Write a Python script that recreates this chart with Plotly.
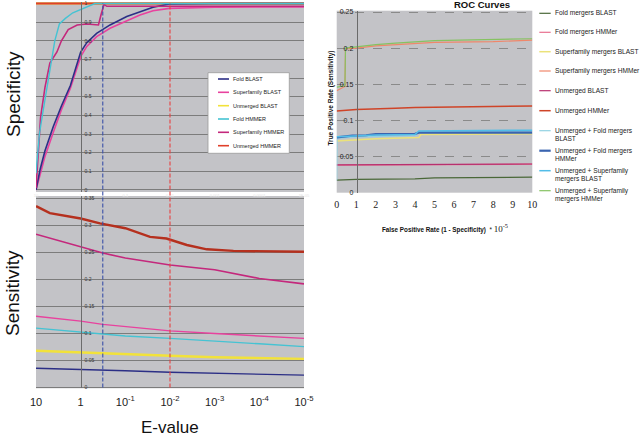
import plotly.graph_objects as go

W, H = 640, 436

# ───────────────── DATA ─────────────────
# left panels (E-value sweeps)
left_names = ["Fold BLAST", "Superfamily BLAST", "Unmerged BLAST",
              "Fold HMMER", "Superfamily HMMER", "Unmerged HMMER"]
left_colors = ["#2c2f86", "#e8429e", "#f2e23a", "#45c3d3", "#c4287c", "#e0402a"]

# specificity (top panel)
spec_e_blast = [10, 8.1, 6.3, 4.1, 2.7, 1.7, 1, 0.73, 0.44, 0.22, 0.093, 0.047, 0.024, 0.0104, 0.001, 1e-5]
spec_fold_blast = [0, 0.11, 0.21, 0.34, 0.45, 0.56, 0.74, 0.79, 0.84, 0.885, 0.93, 0.956, 0.98, 0.997, 1.0, 1.0]
spec_sf_blast = [0, 0.08, 0.18, 0.31, 0.43, 0.545, 0.715, 0.77, 0.822, 0.867, 0.908, 0.938, 0.961, 0.974, 0.98, 0.982]
spec_e_unmerged = [10, 1e-5]
spec_unmerged_blast = [1.0, 1.0]
spec_unmerged_hmmer = [1.0, 1.0]
spec_e_fold_hmmer = [10, 8.4, 7.1, 5.8, 4.7, 3.8, 3.0, 2.2, 1.5, 1, 0.71, 0.48, 1e-5]
spec_fold_hmmer = [0.09, 0.30, 0.41, 0.54, 0.66, 0.80, 0.89, 0.92, 0.95, 0.968, 0.986, 1.0, 1.0]
spec_e_sf_hmmer = [10, 7.9, 6.3, 4.9, 3.4, 2.7, 1.9, 1.2, 0.73, 0.40, 0.35, 0.30, 0.26, 1e-5]
spec_sf_hmmer = [0.01, 0.39, 0.55, 0.68, 0.74, 0.80, 0.86, 0.885, 0.89, 0.885, 0.94, 0.995, 0.985, 0.985]

# sensitivity (bottom panel)
sens_e = [10, 1, 0.32, 0.1, 0.01, 0.001, 1e-4, 1e-5]
sens_fold_blast = [0.0346, 0.0327, 0.0315, 0.030, 0.0272, 0.0253, 0.0235, 0.022]
sens_sf_blast = [0.131, 0.122, 0.116, 0.112, 0.104, 0.099, 0.095, 0.090]
sens_unmerged_blast = [0.067, 0.0636, 0.0623, 0.061, 0.058, 0.055, 0.0537, 0.052]
sens_fold_hmmer = [0.109, 0.102, 0.098, 0.0944, 0.090, 0.0855, 0.080, 0.0747]
sens_sf_hmmer = [0.283, 0.259, 0.248, 0.239, 0.226, 0.217, 0.201, 0.191]
sens_e_um_hmmer = [10, 4.9, 1, 0.37, 0.1, 0.028, 0.012, 0.01, 0.0042, 0.0015, 3.8e-4, 1e-5]
sens_unmerged_hmmer = [0.335, 0.322, 0.312, 0.303, 0.294, 0.278, 0.275, 0.273, 0.263, 0.255, 0.252, 0.2505]

e_ticks = [10, 1, 0.1, 0.01, 0.001, 1e-4, 1e-5]
e_ticktext = ["10", "1", "10<sup>-1</sup>", "10<sup>-2</sup>", "10<sup>-3</sup>",
              "10<sup>-4</sup>", "10<sup>-5</sup>"]
e_ticktext_top = ["10", "1", "0.1", "0.01", "0.001", "0.0001", "1E-05"]
e_blue_cut = 0.32
e_red_cut = 0.01

# right panel (ROC)
roc_names = ["Fold mergers BLAST", "Fold mergers HMMer", "Superfamily mergers BLAST",
             "Superfamily mergers HMMer", "Unmerged BLAST", "Unmerged HMMer",
             "Unmerged + Fold mergers<br>BLAST", "Unmerged + Fold mergers<br>HMMer",
             "Unmerged + Superfamily<br>mergers BLAST", "Unmerged + Superfamily<br>mergers HMMer"]
roc_colors = ["#4a6838", "#e8708f", "#ebe27a", "#f0876a", "#b8306f", "#cf4428",
              "#92d2e2", "#3a64b0", "#52bde8", "#86c262"]
roc_widths = [1.2, 1.2, 1.5, 1.2, 1.2, 1.5, 1.2, 2.2, 1.5, 1.2]

roc_x_fold_blast = [0, 1, 4, 5, 10]
roc_y_fold_blast = [0.0175, 0.0185, 0.019, 0.0205, 0.0215]
roc_x_fold_hmmer = [0, 10]
roc_y_fold_hmmer = [0.0382, 0.0394]
roc_x_sf_blast = [0, 1, 2, 4.2, 4.3, 10]
roc_y_sf_blast = [0.0715, 0.0735, 0.0745, 0.0765, 0.0805, 0.0815]
roc_x_sf_hmmer = [0, 0.3, 0.42, 0.45, 1, 2, 3, 4, 5, 8, 10]
roc_y_sf_hmmer = [0.141, 0.146, 0.147, 0.199, 0.2, 0.203, 0.205, 0.207, 0.208, 0.209, 0.211]
roc_x_um_blast = [0, 10]
roc_y_um_blast = [0.0384, 0.0397]
roc_x_um_hmmer = [0, 1, 3, 4, 10]
roc_y_um_hmmer = [0.113, 0.115, 0.117, 0.118, 0.12]
roc_x_um_fold_blast = [0, 0.02, 0.8, 4, 4.2, 10]
roc_y_um_fold_blast = [0.017, 0.075, 0.077, 0.079, 0.084, 0.085]
roc_x_um_fold_hmmer = [0, 0.8, 1.5, 2, 4, 4.2, 10]
roc_y_um_fold_hmmer = [0.0765, 0.079, 0.0795, 0.081, 0.0815, 0.083, 0.0832]
roc_x_um_sf_blast = [0, 0.8, 2, 4, 4.2, 10]
roc_y_um_sf_blast = [0.0775, 0.0785, 0.080, 0.0805, 0.0855, 0.0865]
roc_x_um_sf_hmmer = [0, 0.42, 0.45, 1, 2, 3, 4, 5, 10]
roc_y_um_sf_hmmer = [0.146, 0.148, 0.2, 0.202, 0.205, 0.207, 0.209, 0.2105, 0.213]

FONT = "Liberation Sans, Arial, sans-serif"
SERIF = "Liberation Serif, Times New Roman, serif"


def px(x):
    return x / W


def py(y):
    return 1 - y / H


fig = go.Figure()


def line(xs, ys, color, width, xa, ya):
    fig.add_trace(go.Scatter(x=xs, y=ys, mode="lines", xaxis=xa, yaxis=ya,
                             line=dict(color=color, width=width), showlegend=False,
                             hoverinfo="skip"))


# ── top: specificity ──
line(spec_e_unmerged, spec_unmerged_blast, left_colors[2], 2, "x", "y")
line(spec_e_unmerged, spec_unmerged_hmmer, left_colors[5], 2, "x", "y")
line(spec_e_blast, spec_sf_blast, left_colors[1], 1.6, "x", "y")
line(spec_e_blast, spec_fold_blast, left_colors[0], 1.6, "x", "y")
line(spec_e_sf_hmmer, spec_sf_hmmer, left_colors[4], 1.6, "x", "y")
line(spec_e_fold_hmmer, spec_fold_hmmer, left_colors[3], 1.4, "x", "y")

# ── bottom: sensitivity ──
line(sens_e, sens_fold_blast, left_colors[0], 1.4, "x2", "y2")
line(sens_e, sens_unmerged_blast, left_colors[2], 2.4, "x2", "y2")
line(sens_e, sens_fold_hmmer, left_colors[3], 1.4, "x2", "y2")
line(sens_e, sens_sf_blast, left_colors[1], 1.4, "x2", "y2")
line(sens_e, sens_sf_hmmer, left_colors[4], 1.6, "x2", "y2")
line(sens_e_um_hmmer, sens_unmerged_hmmer, "#b5301e", 2.4, "x2", "y2")

# ── right: ROC ──
roc_series = [
    (roc_x_fold_blast, roc_y_fold_blast), (roc_x_fold_hmmer, roc_y_fold_hmmer),
    (roc_x_sf_blast, roc_y_sf_blast), (roc_x_sf_hmmer, roc_y_sf_hmmer),
    (roc_x_um_blast, roc_y_um_blast), (roc_x_um_hmmer, roc_y_um_hmmer),
    (roc_x_um_fold_blast, roc_y_um_fold_blast), (roc_x_um_fold_hmmer, roc_y_um_fold_hmmer),
    (roc_x_um_sf_blast, roc_y_um_sf_blast), (roc_x_um_sf_hmmer, roc_y_um_sf_hmmer),
]
for (xs, ys), c, w in zip(roc_series, roc_colors, roc_widths):
    line(xs, ys, c, w, "x3", "y3")

# ───────────────── LAYOUT ─────────────────
left_dom = [px(36), px(304)]
e_range = [1.0005, -5.0005]
common_y = dict(anchor="free", position=px(80.5), side="right", showline=True,
                linecolor="#6c6c6c", linewidth=1, gridcolor="#7c7c7c", gridwidth=1,
                zeroline=False, ticks="outside", ticklen=2, tickcolor="rgba(0,0,0,0)",
                automargin=False, ticklabeloverflow="allow")
fig.update_layout(
    width=W, height=H, autosize=False,
    margin=dict(l=0, r=0, t=0, b=0, autoexpand=False),
    paper_bgcolor="white", plot_bgcolor="#c3c3c7",
    font=dict(family=FONT, color="#222"),
    xaxis=dict(domain=left_dom, type="log", range=e_range, anchor="y", showgrid=False,
               zeroline=False, tickvals=e_ticks, ticktext=e_ticktext_top,
               tickfont=dict(size=4, color="#e4e4e4"), ticks="", automargin=False),
    yaxis=dict(domain=[py(192), py(2)], range=[-0.011, 1.008], dtick=0.1,
               tickfont=dict(size=5, color="#333"), **common_y),
    xaxis2=dict(domain=left_dom, type="log", range=e_range, anchor="y2", showgrid=False,
                zeroline=False, tickvals=e_ticks, ticktext=e_ticktext,
                tickfont=dict(size=11, color="#222"), ticks="outside", ticklen=3,
                tickcolor="rgba(0,0,0,0)", automargin=False, ticklabeloverflow="allow"),
    yaxis2=dict(domain=[py(388.3), py(196)], range=[-0.0024, 0.3537], dtick=0.05,
                tickfont=dict(size=5, color="#333"), **common_y),
    xaxis3=dict(domain=[px(336.7), px(532.3)], range=[0, 10], dtick=1, anchor="y3",
                showgrid=False, zeroline=False, ticks="outside", ticklen=2,
                tickcolor="rgba(0,0,0,0)", tickfont=dict(family=SERIF, size=10, color="#222"),
                automargin=False, ticklabeloverflow="allow"),
    yaxis3=dict(domain=[py(192.7), py(10.7)], range=[0, 0.2518], dtick=0.05,
                anchor="free", position=px(356.7), showline=True, linecolor="#6a6a6a",
                gridcolor="#8a8a8a", griddash="dash", zeroline=False, ticks="outside",
                ticklen=2, tickcolor="rgba(0,0,0,0)", tickfont=dict(size=7, color="#222"),
                automargin=False, ticklabeloverflow="allow"),
)

shapes = []
# dashed E-value cut-offs through both left panels
for e_cut, col in [(e_blue_cut, "#3a50a8"), (e_red_cut, "#e84040")]:
    shapes.append(dict(type="line", xref="x2", yref="paper", x0=e_cut, x1=e_cut,
                       y0=py(387.5), y1=py(3),
                       line=dict(color=col, width=1.1, dash="4px,2px")))

# left legend box
shapes.append(dict(type="rect", xref="paper", yref="paper", x0=px(208), x1=px(289.3),
                   y0=py(153.3), y1=py(72.7), fillcolor="white",
                   line=dict(color="#9a9a9a", width=0.8)))
annotations = []
left_leg_y = [79, 92.3, 105.7, 119, 132.3, 145.7]
for name, col, yy in zip(left_names, left_colors, left_leg_y):
    shapes.append(dict(type="line", xref="paper", yref="paper", x0=px(218), x1=px(229),
                       y0=py(yy), y1=py(yy), line=dict(color=col, width=1.6)))
    annotations.append(dict(text=name, xref="paper", yref="paper", x=px(230.5), y=py(yy),
                            xanchor="left", yanchor="middle", showarrow=False,
                            font=dict(size=5.5, color="#222")))

# right legend
roc_leg_y = [13.3, 32.3, 51.7, 71, 90.7, 110.7, 130.7, 150.7, 170.7, 190.7]
for name, col, w, yy in zip(roc_names, roc_colors, roc_widths, roc_leg_y):
    shapes.append(dict(type="line", xref="paper", yref="paper", x0=px(539.3), x1=px(550.7),
                       y0=py(yy), y1=py(yy), line=dict(color=col, width=w)))
    for k, part in enumerate(name.split("<br>")):
        annotations.append(dict(text=part, xref="paper", yref="paper", x=px(552.5),
                                y=py(yy + 7.8 * k), xanchor="left", yanchor="middle",
                                showarrow=False, font=dict(size=6.6, color="#222")))

# axis titles
titles = [
    dict(text="Specificity", x=px(13), y=py(94), textangle=-90, font=dict(size=19, color="#111")),
    dict(text="Sensitivity", x=px(12), y=py(293), textangle=-90, font=dict(size=19, color="#111")),
    dict(text="E-value", x=px(170), y=py(427), font=dict(size=17, color="#111")),
    dict(text="<b>ROC Curves</b>", x=px(482), y=py(5), font=dict(size=9.5, color="#111")),
    dict(text="<b>True Positive Rate (Sensitivity)</b>", x=px(330.5), y=py(98),
         textangle=-90, font=dict(size=6.5, color="#111")),
    dict(text="<b>False Positive Rate (1 - Specificity)</b>  * "
              "<span style='font-family:Liberation Serif, serif;font-size:9px'>10<sup>-5</sup></span>",
         x=px(445), y=py(228), font=dict(size=6.3, color="#111")),
]
for a in titles:
    a.update(xref="paper", yref="paper", showarrow=False, xanchor="center", yanchor="middle")
annotations += titles

fig.update_layout(shapes=shapes, annotations=annotations)
# the page body has a default 8px margin; drop it so the figure sits at the window origin
fig.write_html("out.html", config={"displayModeBar": False},
               post_script="document.body.style.margin='0';")
